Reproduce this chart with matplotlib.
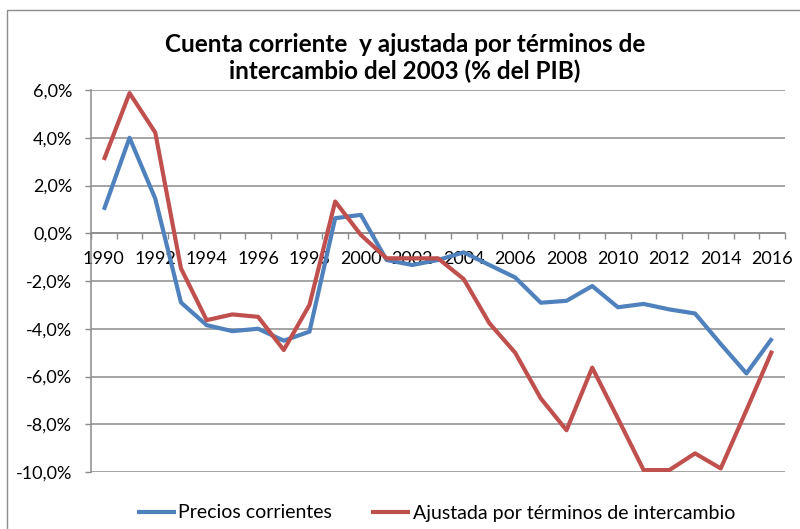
import matplotlib
matplotlib.use("Agg")
import matplotlib.pyplot as plt
from matplotlib.patches import Rectangle
from matplotlib.ticker import FixedLocator, FuncFormatter, NullFormatter

plt.rcParams['font.family'] = ['Lato', 'DejaVu Sans']

years = list(range(1990, 2017))
precios_corrientes = [0.98, 4.0, 1.45, -2.9, -3.85, -4.1, -4.0, -4.5, -4.12, 0.63,
                      0.77, -1.12, -1.33, -1.12, -0.8, -1.33, -1.85, -2.91, -2.83, -2.21,
                      -3.1, -2.96, -3.19, -3.36, -4.64, -5.87, -4.4]
ajustada = [3.07, 5.87, 4.22, -1.47, -3.64, -3.4, -3.5, -4.89, -3.0, 1.33,
            -0.07, -1.05, -1.05, -1.05, -1.92, -3.77, -5.0, -6.92, -8.25, -5.63,
            -7.76, -9.92, -9.92, -9.22, -9.85, -7.41, -4.92]
y_ticks = [-10, -8, -6, -4, -2, 0, 2, 4, 6]
x_labels = list(range(1990, 2017, 2))
title = "Cuenta corriente  y ajustada por términos de\nintercambio del 2003 (% del PIB)"
labels = ["Precios corrientes", "Ajustada por términos de intercambio"]

W, H = 800, 529
fig = plt.figure(figsize=(W / 100, H / 100), dpi=100)
ax = fig.add_axes([91 / W, 1 - 472 / H, (785 - 91) / W, (472 - 90) / H])

grid_c = '#8c8c8c'
blue = '#4F81BD'
red = '#C0504D'

l1, = ax.plot(years, precios_corrientes, color=blue, lw=3.0, solid_joinstyle='round',
              solid_capstyle='butt', zorder=3)
l2, = ax.plot(years, ajustada, color=red, lw=3.0, solid_joinstyle='round',
              solid_capstyle='butt', zorder=4)

ax.set_xlim(1989.5, 2016.5)
ax.set_ylim(-10, 6)

# y axis
ax.set_yticks(y_ticks)
ax.yaxis.set_major_formatter(FuncFormatter(lambda v, p: f"{v:.1f}%".replace('.', ',')))
ax.tick_params(axis='y', direction='out', length=4.5, width=1.0, color=grid_c,
               pad=9, labelsize=13, labelcolor='black')
for y in y_ticks:
    ax.axhline(y, color=grid_c, lw=1.1, zorder=1)

# x axis at zero
ax.spines['bottom'].set_position(('data', 0))
ax.spines['bottom'].set_color(grid_c)
ax.spines['bottom'].set_linewidth(1.1)
ax.spines['left'].set_color(grid_c)
ax.spines['left'].set_linewidth(1.1)
ax.spines['top'].set_visible(False)
ax.spines['right'].set_visible(False)
ax.xaxis.set_major_locator(FixedLocator([y - 0.5 for y in years] + [years[-1] + 0.5]))
ax.xaxis.set_major_formatter(NullFormatter())
ax.xaxis.set_minor_locator(FixedLocator(x_labels))
ax.xaxis.set_minor_formatter(FuncFormatter(lambda v, p: f"{int(round(v))}"))
ax.tick_params(axis='x', which='major', direction='out', length=4.5, width=1.0, color=grid_c)
ax.tick_params(axis='x', which='minor', length=0, pad=13, labelsize=13, labelcolor='black')

fig.text(405 / W, 1 - 58 / H, title, ha='center', va='center', fontsize=17.5,
         fontweight='bold', linespacing=1.15)

fig.legend([l1, l2], labels, loc='center', bbox_to_anchor=(436 / W, 1 - 513 / H),
           ncol=2, frameon=False, fontsize=14, handlelength=2.0, handletextpad=0.15,
           columnspacing=2.0)

fig.patches.append(Rectangle((7 / W, -0.1), 2, 1 - 10 / H + 0.1, transform=fig.transFigure,
                             fill=False, edgecolor=grid_c, lw=1.0))

fig.savefig('out.png', dpi=100)
